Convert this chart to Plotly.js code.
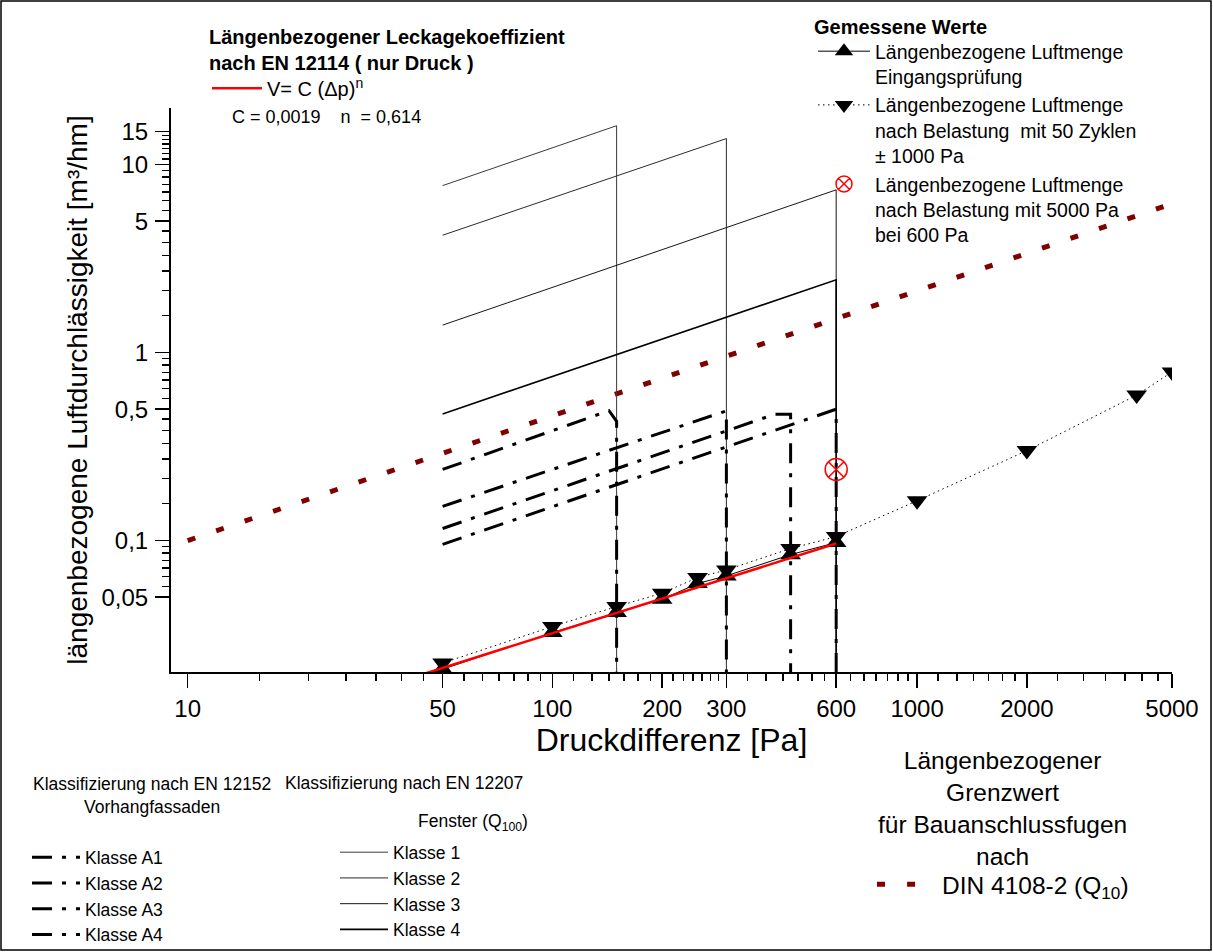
<!DOCTYPE html>
<html><head><meta charset="utf-8">
<script src="https://cdn.plot.ly/plotly-3.0.1.min.js"></script>
<style>html,body{margin:0;padding:0;background:#fff;overflow:hidden}</style>
</head><body><div id="chart" style="width:1213px;height:952px"></div>
<script>
// ---------- data ----------
const pressureEingang = [50, 100, 150, 200, 250, 300, 450, 600];
const luftEingang     = [0.0207, 0.0324, 0.0414, 0.0487, 0.0591, 0.0649, 0.0842, 0.0976];
const pressureZyklen  = [50, 100, 150, 200, 250, 300, 450, 600, 1000, 2000, 4000, 5000];
const luftZyklen      = [0.0223, 0.0349, 0.0446, 0.0525, 0.0636, 0.0698, 0.0907, 0.105, 0.163, 0.301, 0.594, 0.788];
const pressure5000    = [600];
const luft5000        = [0.239];
const fitPressure     = [45, 600];
const fitLuft         = [0.0197, 0.0965];
const dinPressure     = [10, 5000];
const dinLuft         = [0.1, 6.2];
// EN 12207 Fenster classes
const klasse1P = [50, 150, 150];  const klasse1V = [7.73, 16.1, 0.02];
const klasse2P = [50, 300, 300];  const klasse2V = [4.21, 13.75, 0.02];
const klasse3P = [50, 600, 600];  const klasse3V = [1.40, 7.34, 0.02];
const klasse4P = [50, 600, 600];  const klasse4V = [0.472, 2.44, 0.02];
// EN 12152 Vorhangfassaden classes
const a1P = [50, 143, 150, 150];  const a1V = [0.239, 0.491, 0.431, 0.02];
const a2P = [50, 300, 300];       const a2V = [0.152, 0.49, 0.02];
const a3P = [50, 407, 450, 450];  const a3V = [0.116, 0.47, 0.47, 0.02];
const a4P = [50, 600, 600];       const a4V = [0.0954, 0.5, 0.02];
// ticks
const xTickVals = [10, 50, 100, 200, 300, 600, 1000, 2000, 5000];
const xTickText = ['10', '50', '100', '200', '300', '600', '1000', '2000', '5000'];
const yTickVals = [0.05, 0.1, 0.5, 1, 5, 10, 15];
const yTickText = ['0,05', '0,1', '0,5', '1', '5', '10', '15'];

// ---------- layout helpers ----------
const W = 1213, H = 952;
const M = {l: 171, r: 41, t: 108, b: 280, autoexpand: false};
const PW = W - M.l - M.r, PH = H - M.t - M.b;
const px = v => (v - M.l) / PW;
const py = v => (H - M.b - v) / PH;
function minorTicks(vals) {
  const out = [];
  for (let i = 0; i < vals.length - 1; i++) {
    const step = (vals[i + 1] - vals[i]) / 7;
    for (let k = 1; k < 7; k++) out.push(vals[i] + k * step);
  }
  return out;
}
const FONT = 'Liberation Sans, Arial, sans-serif';
const dashDot = '20px,10px,4px,10px';

const traces = [
  {x: dinPressure, y: dinLuft, mode: 'lines', name: 'DIN 4108-2 (Q<sub>10</sub>)', legend: 'legend5',
   line: {color: '#800000', width: 5, dash: '8px,22.1px'}},
  {x: klasse1P, y: klasse1V, mode: 'lines', name: 'Klasse 1', legend: 'legend4', line: {color: '#3a3a3a', width: 1}},
  {x: klasse2P, y: klasse2V, mode: 'lines', name: 'Klasse 2', legend: 'legend4', line: {color: '#2a2a2a', width: 1}},
  {x: klasse3P, y: klasse3V, mode: 'lines', name: 'Klasse 3', legend: 'legend4', line: {color: '#151515', width: 1}},
  {x: klasse4P, y: klasse4V, mode: 'lines', name: 'Klasse 4', legend: 'legend4', line: {color: '#000', width: 1.6}},
  {x: a1P, y: a1V, mode: 'lines', name: 'Klasse A1', legend: 'legend3', line: {color: '#000', width: 3, dash: dashDot}},
  {x: a2P, y: a2V, mode: 'lines', name: 'Klasse A2', legend: 'legend3', line: {color: '#000', width: 3, dash: dashDot}},
  {x: a3P, y: a3V, mode: 'lines', name: 'Klasse A3', legend: 'legend3', line: {color: '#000', width: 3, dash: dashDot}},
  {x: a4P, y: a4V, mode: 'lines', name: 'Klasse A4', legend: 'legend3', line: {color: '#000', width: 3, dash: dashDot}},
  {x: pressureEingang, y: luftEingang, mode: 'lines+markers', legend: 'legend2', legendrank: 1,
   name: 'Längenbezogene Luftmenge<br>Eingangsprüfung',
   line: {color: '#000', width: 1}, marker: {symbol: 'triangle-up', size: 18, color: '#000'}},
  {x: pressureZyklen, y: luftZyklen, mode: 'lines+markers', legend: 'legend2', legendrank: 2,
   name: 'Längenbezogene Luftmenge<br>nach Belastung  mit 50 Zyklen<br>± 1000 Pa',
   line: {color: '#000', width: 1, dash: '1.5px,3.5px'}, marker: {symbol: 'triangle-down', size: 18, color: '#000'}},
  {x: fitPressure, y: fitLuft, mode: 'lines', name: 'V= C (Δp)<sup>n</sup>', legend: 'legend',
   line: {color: '#ff0000', width: 2.5}},
  {x: pressure5000, y: luft5000, mode: 'markers', legend: 'legend2', legendrank: 3,
   name: 'Längenbezogene Luftmenge<br>nach Belastung mit 5000 Pa<br>bei 600 Pa',
   marker: {symbol: 'circle-x-open', size: 22, color: '#ff0000', line: {width: 1.5, color: '#ff0000'}}}
];

function leg(x, y, size, itemwidth) {
  return {x: px(x), y: py(y), xanchor: 'left', yanchor: 'top', xref: 'paper', yref: 'paper',
          bgcolor: 'rgba(0,0,0,0)', borderwidth: 0, itemwidth: itemwidth, tracegroupgap: 0,
          itemclick: false, itemdoubleclick: false, traceorder: 'normal', valign: 'top',
          font: {family: FONT, size: size, color: '#000'}};
}

function ann(text, x, y, size, xanchor, align) {
  return {text: text, x: px(x), y: py(y), xref: 'paper', yref: 'paper', showarrow: false,
          xanchor: xanchor, yanchor: 'middle', align: align || xanchor,
          font: {family: FONT, size: size, color: '#000'}};
}

const layout = {
  width: W, height: H, margin: M, paper_bgcolor: '#fff', plot_bgcolor: '#fff',
  showlegend: true,
  font: {family: FONT, color: '#000'},
  xaxis: {
    type: 'log', range: [Math.log10(9), Math.log10(5000)], autorange: false,
    tickmode: 'array', tickvals: xTickVals, ticktext: xTickText,
    ticks: 'outside', ticklen: 14, tickwidth: 1.5, tickcolor: '#000',
    minor: {tickmode: 'array', tickvals: minorTicks(xTickVals), ticks: 'outside', ticklen: 7, tickwidth: 1.5, tickcolor: '#000'},
    showline: true, linewidth: 2, linecolor: '#000', showgrid: false, zeroline: false,
    tickfont: {family: FONT, size: 24, color: '#000'}, ticklabelstandoff: 0,
    title: {text: 'Druckdifferenz [Pa]', font: {family: FONT, size: 32, color: '#000'}, standoff: 8}
  },
  yaxis: {
    type: 'log', range: [Math.log10(0.02), Math.log10(20)], autorange: false,
    tickmode: 'array', tickvals: yTickVals, ticktext: yTickText,
    ticks: 'outside', ticklen: 14, tickwidth: 1.5, tickcolor: '#000',
    minor: {tickmode: 'array', tickvals: minorTicks(yTickVals), ticks: 'outside', ticklen: 7, tickwidth: 1.5, tickcolor: '#000'},
    showline: true, linewidth: 2, linecolor: '#000', showgrid: false, zeroline: false,
    tickfont: {family: FONT, size: 24, color: '#000'}, ticklabelstandoff: 2,
    title: {text: 'längenbezogene Luftdurchlässigkeit [m³/hm]', font: {family: FONT, size: 28, color: '#000'}, standoff: 6}
  },
  legend:  leg(207, 68.7, 20, 50),
  legend2: leg(813, 32, 19.5, 52),
  legend3: leg(27, 839.3, 17.5, 48),
  legend4: leg(335, 834.3, 17.5, 48),
  legend5: leg(872, 861.8, 24.5, 60),
  annotations: [
    ann('<b>Längenbezogener Leckagekoeffizient</b><br><b>nach EN 12114 ( nur Druck )</b>', 207, 50.5, 20, 'left'),
    ann('C = 0,0019    n  = 0,614', 230, 117, 18, 'left'),
    ann('<b>Gemessene Werte</b>', 812, 27, 20, 'left'),
    ann('Klassifizierung nach EN 12152<br>Vorhangfassaden', 152, 795.5, 17.5, 'center'),
    ann('Klassifizierung nach EN 12207', 283, 783, 17.5, 'left'),
    ann('Fenster (Q<sub>100</sub>)', 530, 822, 17.5, 'right'),
    ann('Längenbezogener<br>Grenzwert<br>für Bauanschlussfugen<br>nach', 1002, 808, 24.5, 'center')
  ],
  shapes: [
    {type: 'rect', xref: 'paper', yref: 'paper', x0: px(1), x1: px(1211), y0: py(950), y1: py(1),
     line: {color: '#000', width: 1.5}, fillcolor: 'rgba(0,0,0,0)', layer: 'below'}
  ]
};

Plotly.newPlot('chart', traces, layout, {displayModeBar: false, staticPlot: true});
</script></body></html>
